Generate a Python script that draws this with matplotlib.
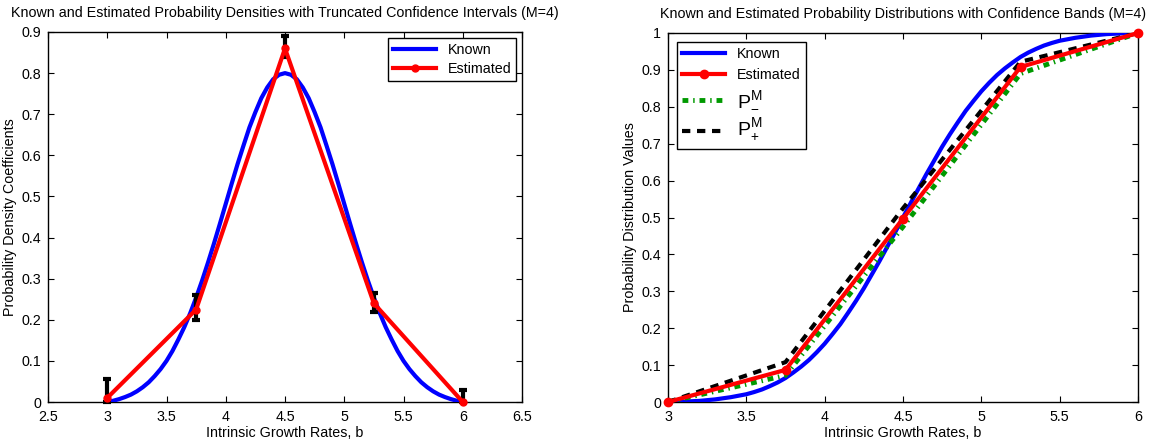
import matplotlib
matplotlib.use("Agg")
import matplotlib.pyplot as plt
import numpy as np

plt.rcParams['font.family'] = ['Liberation Sans', 'DejaVu Sans']
plt.rcParams['mathtext.fontset'] = 'custom'
plt.rcParams['mathtext.rm'] = 'Liberation Sans'

# known density / distribution (step 0.05)
b_known = [3.0, 3.05, 3.1, 3.15, 3.2, 3.25, 3.3, 3.35, 3.4, 3.45, 3.5, 3.55, 3.6, 3.65,
           3.7, 3.75, 3.8, 3.85, 3.9, 3.95, 4.0, 4.05, 4.1, 4.15, 4.2, 4.25, 4.3, 4.35,
           4.4, 4.45, 4.5, 4.55, 4.6, 4.65, 4.7, 4.75, 4.8, 4.85, 4.9, 4.95, 5.0, 5.05,
           5.1, 5.15, 5.2, 5.25, 5.3, 5.35, 5.4, 5.45, 5.5, 5.55, 5.6, 5.65, 5.7, 5.75,
           5.8, 5.85, 5.9, 5.95, 6.0]
dens_known = [0.0, 0.003, 0.007, 0.012, 0.018, 0.026, 0.036, 0.048, 0.063, 0.080, 0.100,
              0.124, 0.152, 0.182, 0.216, 0.254, 0.295, 0.339, 0.385, 0.433, 0.482, 0.531,
              0.579, 0.624, 0.668, 0.705, 0.739, 0.765, 0.785, 0.796, 0.800, 0.796, 0.785,
              0.765, 0.739, 0.705, 0.668, 0.624, 0.579, 0.531, 0.482, 0.433, 0.385, 0.339,
              0.295, 0.254, 0.216, 0.182, 0.152, 0.124, 0.100, 0.080, 0.063, 0.048, 0.036,
              0.026, 0.018, 0.012, 0.007, 0.003, 0.0]
dist_known = [0.0, 0.0005, 0.001, 0.002, 0.003, 0.005, 0.007, 0.010, 0.013, 0.017, 0.021,
              0.027, 0.034, 0.043, 0.053, 0.065, 0.080, 0.096, 0.114, 0.135, 0.158, 0.184,
              0.211, 0.242, 0.274, 0.308, 0.345, 0.382, 0.421, 0.460, 0.500, 0.540, 0.579,
              0.618, 0.655, 0.692, 0.726, 0.758, 0.789, 0.816, 0.842, 0.865, 0.886, 0.904,
              0.920, 0.935, 0.947, 0.957, 0.966, 0.973, 0.979, 0.983, 0.987, 0.990, 0.993,
              0.995, 0.997, 0.998, 0.999, 0.9995, 1.0]

# estimated values at the nodes (M=4)
b_nodes = [3.0, 3.75, 4.5, 5.25, 6.0]
dens_est = [0.01, 0.225, 0.86, 0.24, 0.0]
ci_low = [0.0, 0.20, 0.84, 0.22, 0.0]
ci_high = [0.057, 0.26, 0.89, 0.265, 0.03]
dist_est = [0.0, 0.087, 0.497, 0.908, 1.0]
dist_minus = [0.0, 0.072, 0.475, 0.89, 1.0]
dist_plus = [0.0, 0.108, 0.525, 0.922, 1.0]

fs = 10.3
fig = plt.figure(figsize=(11.51, 4.41), dpi=100)
ax1 = fig.add_axes([48/1151, 1-402/441, 474/1151, 370/441])
ax2 = fig.add_axes([668/1151, 1-402/441, 470/1151, 369/441])

# left: densities
ax1.plot(b_known, dens_known, color='b', lw=3, label='Known', zorder=3)
yerr = [np.array(dens_est) - np.array(ci_low), np.array(ci_high) - np.array(dens_est)]
ax1.errorbar(b_nodes, dens_est, yerr=yerr, fmt='none', ecolor='k', elinewidth=3,
             capsize=3, capthick=3, zorder=4, clip_on=False)
ax1.plot(b_nodes, dens_est, color='r', lw=3, marker='o', ms=5, label='Estimated',
         zorder=5, clip_on=False)
ax1.set_xlim(2.5, 6.5)
ax1.set_ylim(0, 0.9)
ax1.set_xticks(np.arange(2.5, 6.51, 0.5))
ax1.set_xticklabels(['2.5', '3', '3.5', '4', '4.5', '5', '5.5', '6', '6.5'])
ax1.set_yticks(np.arange(0, 0.91, 0.1))
ax1.set_yticklabels(['0', '0.1', '0.2', '0.3', '0.4', '0.5', '0.6', '0.7', '0.8', '0.9'])
ax1.set_title('Known and Estimated Probability Densities with Truncated Confidence Intervals (M=4)',
              fontsize=fs, pad=11)
ax1.set_xlabel('Intrinsic Growth Rates, b', fontsize=fs, labelpad=1)
ax1.set_ylabel('Probability Density Coefficients', fontsize=fs, labelpad=3)
leg1 = ax1.legend(loc='upper right', fontsize=fs, fancybox=False, edgecolor='k',
                  handlelength=3.0, borderaxespad=0.4, framealpha=1, borderpad=0.35,
                  labelspacing=0.35)
leg1.get_frame().set_linewidth(1.0)

# right: distributions
ax2.plot(b_known, dist_known, color='b', lw=3, label='Known', zorder=3)
ax2.plot(b_nodes, dist_est, color='r', lw=3, marker='o', ms=6, label='Estimated',
         zorder=6, clip_on=False)
ax2.plot(b_nodes, dist_minus, color=(0, 0.6, 0), lw=3.5, ls=(0, (1.2, 1.0, 0.3, 1.0)),
         label=r'$\mathrm{P}_{-}^{\mathrm{M}}$', zorder=4)
ax2.plot(b_nodes, dist_plus, color='k', lw=3, ls=(0, (2.0, 1.6)),
         label=r'$\mathrm{P}_{+}^{\mathrm{M}}$', zorder=5)
ax2.set_xlim(3, 6)
ax2.set_ylim(0, 1)
ax2.set_xticks(np.arange(3, 6.01, 0.5))
ax2.set_xticklabels(['3', '3.5', '4', '4.5', '5', '5.5', '6'])
ax2.set_yticks(np.arange(0, 1.01, 0.1))
ax2.set_yticklabels(['0', '0.1', '0.2', '0.3', '0.4', '0.5', '0.6', '0.7', '0.8', '0.9', '1'])
ax2.set_title('Known and Estimated Probability Distributions with Confidence Bands (M=4)',
              fontsize=fs, pad=11)
ax2.set_xlabel('Intrinsic Growth Rates, b', fontsize=fs, labelpad=1)
ax2.set_ylabel('Probability Distribution Values', fontsize=fs, labelpad=3)
leg2 = ax2.legend(loc='upper left', fontsize=fs, fancybox=False, edgecolor='k',
                  handlelength=3.0, borderaxespad=0.6, framealpha=1, labelspacing=0.5)
leg2.get_frame().set_linewidth(1.0)
for t in leg2.get_texts()[2:]:
    t.set_fontsize(14)

for ax in (ax1, ax2):
    ax.tick_params(direction='in', top=True, right=True, labelsize=fs, length=4, width=0.8)
    ax.tick_params(axis='y', pad=5)
    ax.tick_params(axis='x', pad=6)
    for s in ax.spines.values():
        s.set_linewidth(1.0)

fig.savefig('out.png', dpi=100)
